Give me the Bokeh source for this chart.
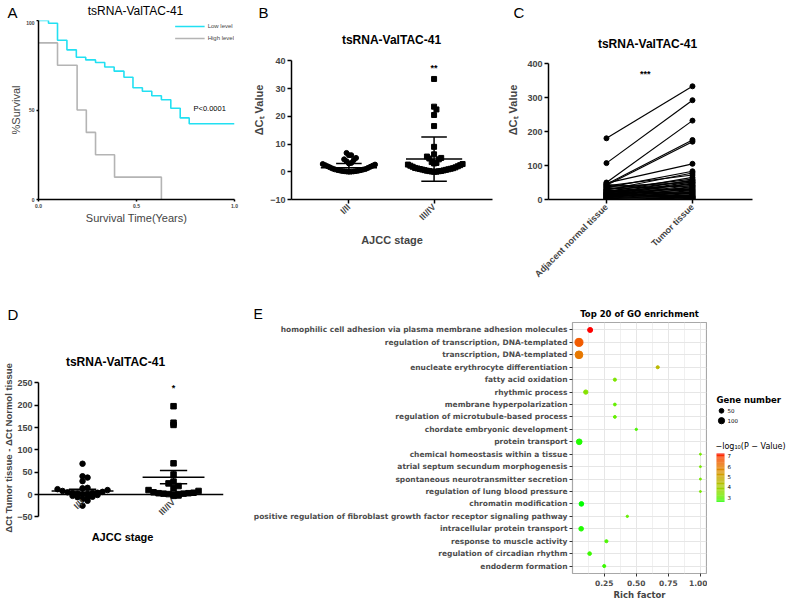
import math
import numpy as np
from bokeh.plotting import figure
from bokeh.models import Range1d, Label, FixedTicker, NumeralTickFormatter
from bokeh.layouts import column, row
from bokeh.embed import file_html
from bokeh.resources import INLINE

# ---------------- data ----------------
# A: Kaplan-Meier
km_low_time = [0, 0.051, 0.097, 0.145, 0.193, 0.241, 0.291, 0.338, 0.386, 0.436, 0.482,
               0.530, 0.578, 0.627, 0.675, 0.723, 0.769, 1.0]
km_low_surv = [100, 98.5, 89, 83.6, 79.5, 78, 76.5, 74, 71.7, 68.3, 62.4, 60.5, 58, 55.7,
               51, 45.6, 42.3, 42.3]
km_high_time = [0, 0.097, 0.197, 0.244, 0.291, 0.388, 0.627]
km_high_surv = [87.5, 75, 50, 37.5, 25, 12.5, 0]

# B: delta Ct by AJCC stage
stage_labels = ["I/II", "III/IV"]
b_early = [6.8, 6.0, 6.0, 5.0, 4.5, 4.2, 3.8, 3.2, 3.0, 2.8, 2.6, 2.4, 2.2, 2.0, 1.8, 1.6,
           1.4, 1.2, 1.0, 0.9, 0.8, 0.7, 0.6, 0.5, 0.4, 0.3, 0.25, 0.2, 0.15, 0.1, 0.05, 0.0]
b_late = [33.5, 23.5, 22.5, 20.5, 16.5, 9.0, 6.3, 5.5, 5.0, 4.8, 4.5, 3.5, 3.2, 3.0, 2.8,
          2.6, 2.4, 2.2, 2.0, 1.8, 1.6, 1.4, 1.3, 1.2, 1.1, 1.0, 0.9, 0.8, 0.7, 0.6, 0.5,
          0.4, 0.3, 0.25, 0.2, 0.1, 0.05, 0.0]
b_mean = [1.5, 4.6]
b_sd = [1.5, 8.0]

# C: paired normal vs tumor
tissue_labels = ["Adjacent normal tissue", "Tumor tissue"]
c_normal = [180, 107, 50, 45, 42, 48, 35, 28, 40, 22, 30, 18, 25, 15, 38, 12, 20, 10, 32, 8,
            16, 5, 26, 14, 6, 44, 3, 19, 9, 24, 2, 11, 36, 7, 13, 4, 29, 1, 17, 21]
c_tumor = [333, 292, 232, 175, 170, 105, 83, 78, 72, 65, 60, 57, 55, 52, 50, 48, 45, 42, 40,
           38, 35, 33, 30, 28, 26, 24, 22, 20, 18, 16, 14, 12, 10, 9, 8, 6, 5, 4, 3, 2]

# D: tumor - normal by stage
d_early = [69, 41, 38, 30, 15, 14, 12, 10, 8, 6, 5, 4, 3, 3, 2, 1, 0, -1, -3, -5, -6, -8,
           -10, -14, -25]
d_late = [198, 161, 156, 70, 45, 29, 25, 19, 14, 10, 8, 5, 4, 3, 3, 2, 2, 1, 1, 0, -2, -3]
d_mean = [8, 39]
d_sem = [4, 15]

# E: GO enrichment
go_terms = [
    "homophilic cell adhesion via plasma membrane adhesion molecules",
    "regulation of transcription, DNA-templated",
    "transcription, DNA-templated",
    "enucleate erythrocyte differentiation",
    "fatty acid oxidation",
    "rhythmic process",
    "membrane hyperpolarization",
    "regulation of microtubule-based process",
    "chordate embryonic development",
    "protein transport",
    "chemical homeostasis within a tissue",
    "atrial septum secundum morphogenesis",
    "spontaneous neurotransmitter secretion",
    "regulation of lung blood pressure",
    "chromatin modification",
    "positive regulation of fibroblast growth factor receptor signaling pathway",
    "intracellular protein transport",
    "response to muscle activity",
    "regulation of circadian rhythm",
    "endoderm formation",
]
go_rich = [0.14, 0.053, 0.053, 0.667, 0.333, 0.106, 0.333, 0.333, 0.5, 0.055, 1.0, 1.0, 1.0,
           1.0, 0.072, 0.43, 0.07, 0.267, 0.136, 0.25]
go_count = [59, 185, 170, 16, 16, 40, 12, 12, 6, 80, 3, 3, 3, 3, 48, 6, 48, 16, 26, 16]
go_logp = [7.2, 6.5, 6.0, 4.5, 3.3, 3.4, 3.0, 3.0, 2.8, 2.6, 3.2, 3.2, 3.2, 3.2, 2.55, 3.0,
           2.6, 2.8, 2.7, 2.7]
size_breaks = [50, 100]
logp_breaks = [3, 4, 5, 6, 7]

FONT_GP = "Liberation Sans"
FONT_GG = "DejaVu Sans"


# ---------------- helpers ----------------
class Geo:
    def __init__(self, W, H, l, t, r, b, xr, yr):
        self.W, self.H, self.l, self.t, self.r, self.b = W, H, l, t, r, b
        self.xr, self.yr = xr, yr
        self.fw = W - l - r
        self.fh = H - t - b

    def xy(self, px, py):
        x = self.xr[0] + (px - self.l) / self.fw * (self.xr[1] - self.xr[0])
        y = self.yr[1] - (py - self.t) / self.fh * (self.yr[1] - self.yr[0])
        return x, y

    def xpx(self):
        return self.fw / (self.xr[1] - self.xr[0])

    def ypx(self):
        return self.fh / (self.yr[1] - self.yr[0])


def make(g):
    p = figure(width=g.W, height=g.H, x_range=Range1d(*g.xr), y_range=Range1d(*g.yr),
               min_border_left=g.l, min_border_right=g.r, min_border_top=g.t,
               min_border_bottom=g.b, output_backend="svg", toolbar_location=None, tools="")
    p.outline_line_color = None
    p.xgrid.visible = False
    p.ygrid.visible = False
    p.background_fill_color = "white"
    p.border_fill_color = "white"
    return p


def header(W, H):
    p = figure(width=W, height=H, x_range=Range1d(0, W), y_range=Range1d(H, 0),
               min_border_left=0, min_border_right=0, min_border_top=0, min_border_bottom=0,
               x_axis_type=None, y_axis_type=None, output_backend="svg",
               toolbar_location=None, tools="")
    p.outline_line_color = None
    p.grid.visible = False
    return p


def lab(p, x, y, s, size, bold=False, align="center", color="black", font=FONT_GP, angle=0.0):
    p.add_layout(Label(x=x, y=y, text=s, text_font=font, text_font_size=f"{size}px",
                       text_font_style="bold" if bold else "normal", text_align=align,
                       text_baseline="middle", angle=angle, text_color=color))


def txt(p, g, px, py, s, size, **kw):
    x, y = g.xy(px, py)
    lab(p, x, y, s, size, **kw)


def gp_axes(p, size=9, lw=1.5, tick=4):
    for a in (p.xaxis[0], p.yaxis[0]):
        a.axis_line_color = "black"
        a.axis_line_width = lw
        a.major_tick_line_color = "black"
        a.major_tick_line_width = lw
        a.major_tick_out = tick
        a.major_tick_in = 0
        a.minor_tick_line_color = None
        a.major_label_text_font = FONT_GP
        a.major_label_text_font_style = "bold"
        a.major_label_text_font_size = f"{size}px"
        a.major_label_standoff = 2
        a.axis_label_text_font = FONT_GP
        a.axis_label_text_font_style = "bold"
        a.axis_label_text_font_size = "11px"


def swarm(vals, ypx, dbin, s):
    vals = np.asarray(vals, float)
    bins = np.floor(vals * ypx / dbin).astype(int)
    off = np.zeros(len(vals))
    for bb in np.unique(bins):
        idx = np.where(bins == bb)[0]
        idx = idx[np.argsort(vals[idx], kind="stable")]
        for k, i in enumerate(idx):
            m = (k + 1) // 2
            off[i] = m * s * (1 if k % 2 else -1)
    return off


def error_bars(p, centers, mean, err, half_mean, half_cap, lw=1.5):
    c = np.array(centers, float)
    m = np.array(mean, float)
    e = np.array(err, float)
    p.segment(x0=c - half_mean, x1=c + half_mean, y0=m, y1=m, line_color="black", line_width=lw)
    p.segment(x0=c, x1=c, y0=m - e, y1=m + e, line_color="black", line_width=lw)
    p.segment(x0=c - half_cap, x1=c + half_cap, y0=m + e, y1=m + e, line_color="black", line_width=lw)
    p.segment(x0=c - half_cap, x1=c + half_cap, y0=m - e, y1=m - e, line_color="black", line_width=lw)


# Lab colour gradient (green -> red), like ggplot's scale_colour_gradient
_M = np.array([[0.4124564, 0.3575761, 0.1804375],
               [0.2126729, 0.7151522, 0.0721750],
               [0.0193339, 0.1191920, 0.9503041]])
_Mi = np.linalg.inv(_M)
_W = np.array([0.95047, 1.0, 1.08883])


def _lin(c):
    c = np.asarray(c, float) / 255.0
    return np.where(c <= 0.04045, c / 12.92, ((c + 0.055) / 1.055) ** 2.4)


def _gam(c):
    c = np.clip(c, 0, 1)
    return np.where(c <= 0.0031308, 12.92 * c, 1.055 * np.power(c, 1 / 2.4) - 0.055)


def rgb2lab(rgb):
    xyz = _M @ _lin(rgb) / _W
    f = np.where(xyz > 0.008856, np.cbrt(xyz), 7.787 * xyz + 16 / 116)
    return np.array([116 * f[1] - 16, 500 * (f[0] - f[1]), 200 * (f[1] - f[2])])


def lab2hex(labv):
    L, a, b = labv
    fy = (L + 16) / 116
    f = np.array([fy + a / 500, fy, fy - b / 200])
    xyz = np.where(f ** 3 > 0.008856, f ** 3, (f - 16 / 116) / 7.787) * _W
    rgb = np.clip(np.round(_gam(_Mi @ xyz) * 255), 0, 255).astype(int)
    return "#%02x%02x%02x" % tuple(rgb)


LAB_LO = rgb2lab([0, 255, 0])
LAB_HI = rgb2lab([255, 0, 0])
P_LO, P_HI = min(go_logp), max(go_logp)


def grad(v):
    t = min(max((v - P_LO) / (P_HI - P_LO), 0.0), 1.0)
    return lab2hex(LAB_LO + t * (LAB_HI - LAB_LO))


def gene_size(c):
    return 1.08 + 0.512 * np.sqrt(np.asarray(c, float))


# ---------------- header row 1 (panel letters) ----------------
h1 = header(800, 20)
lab(h1, 7, 11.5, "A", 15, align="left")
lab(h1, 135, 10, "tsRNA-ValTAC-41", 12)
lab(h1, 258, 11.5, "B", 15, align="left")
lab(h1, 513, 11.5, "C", 15, align="left")

# ---------------- Panel A ----------------
gA = Geo(250, 270, 38, 0, 16, 91, (0, 1), (0, 100))
pA = make(gA)
pA.step(km_low_time, km_low_surv, mode="after", line_color="#22e0f2", line_width=1.6,
        legend_label="Low level")
pA.step(km_high_time, km_high_surv, mode="after", line_color="#b4b4b4", line_width=1.6,
        legend_label="High level")
gp_axes(pA, size=5, lw=1.5, tick=2)
pA.xaxis.ticker = FixedTicker(ticks=[0, 0.5, 1.0])
pA.xaxis.formatter = NumeralTickFormatter(format="0.0")
pA.yaxis.ticker = FixedTicker(ticks=[0, 50, 100])
pA.xaxis.axis_label = "Survival Time(Years)"
pA.yaxis.axis_label = "%Survival"
for a in (pA.xaxis[0], pA.yaxis[0]):
    a.axis_label_text_font_style = "normal"
    a.axis_label_standoff = 1
pA.legend.location = "top_right"
pA.legend.label_text_font = FONT_GP
pA.legend.label_text_font_size = "6px"
pA.legend.glyph_width = 30
pA.legend.glyph_height = 12
pA.legend.label_height = 12
pA.legend.spacing = 0
pA.legend.padding = 4
pA.legend.margin = 0
pA.legend.label_standoff = 3
pA.legend.border_line_color = None
pA.legend.background_fill_alpha = 0
txt(pA, gA, 193, 88, "P<0.0001", 7.5, align="left")

# ---------------- Panel B ----------------
gB = Geo(250, 270, 39, 0, 8, 91, (0.326, 2.686), (-10, 54.6))
pB = make(gB)
offE = swarm(b_early, gB.ypx(), 8, 2.4) / gB.xpx()
offL = swarm(b_late, gB.ypx(), 8, 2.4) / gB.xpx()
pB.scatter(1 + offE, b_early, marker="circle", size=5, color="black")
pB.scatter(2 + offL, b_late, marker="square", size=5, color="black")
error_bars(pB, [1, 2], b_mean, b_sd, 0.33, 0.15)
gp_axes(pB)
pB.yaxis.bounds = (-10, 40)
pB.xaxis.ticker = FixedTicker(ticks=[1, 2])
pB.xaxis.major_label_overrides = {1: stage_labels[0], 2: stage_labels[1]}
pB.xaxis.major_label_orientation = math.pi / 4
pB.yaxis.ticker = FixedTicker(ticks=[-10, 0, 10, 20, 30, 40])
pB.xaxis.axis_label = "AJCC stage"
pB.xaxis.axis_label_standoff = 5
pB.yaxis.axis_label = "\u0394C\u209c Value"
pB.yaxis.axis_label_standoff = 2
lab(pB, 2, 37.6, "**", 9, bold=True)
txt(pB, gB, 140, 19, "tsRNA-ValTAC-41", 12, bold=True)

# ---------------- Panel C ----------------
gC = Geo(300, 270, 48, 0, 48, 91, (0.326, 2.698), (0, 526.5))
pC = make(gC)
n = len(c_normal)
pC.segment(x0=[1] * n, y0=c_normal, x1=[2] * n, y1=c_tumor, line_color="black", line_width=1.2)
pC.scatter([1] * n, c_normal, marker="circle", size=5, color="black")
pC.scatter([2] * n, c_tumor, marker="circle", size=5, color="black")
gp_axes(pC)
pC.yaxis.bounds = (0, 400)
pC.xaxis.ticker = FixedTicker(ticks=[1, 2])
pC.xaxis.major_label_overrides = {1: tissue_labels[0], 2: tissue_labels[1]}
pC.xaxis.major_label_orientation = math.pi / 4
pC.yaxis.ticker = FixedTicker(ticks=[0, 100, 200, 300, 400])
pC.yaxis.axis_label = "\u0394C\u209c Value"
pC.yaxis.axis_label_standoff = 5
lab(pC, 1.45, 368, "***", 9, bold=True)
txt(pC, gC, 147, 23, "tsRNA-ValTAC-41", 12, bold=True)

# ---------------- header row 2 ----------------
h2 = header(800, 32)
lab(h2, 7, 23.5, "D", 15, align="left")
lab(h2, 253, 23.5, "E", 14, align="left")
lab(h2, 639, 23, "Top 20 of GO enrichment", 8.5, bold=True, font=FONT_GG)

# ---------------- Panel D ----------------
BOT2 = 27
gD = Geo(240, 280, 38, 0, 17, BOT2, (0.516, 2.549), (-177.0, 385.6))
pD = make(gD)
offDE = swarm(d_early, gD.ypx(), 6, 5) / gD.xpx()
offDL = swarm(d_late, gD.ypx(), 6, 5) / gD.xpx()
pD.scatter(1 + offDE, d_early, marker="circle", size=5.5, color="black")
pD.scatter(2 + offDL, d_late, marker="square", size=5.5, color="black")
error_bars(pD, [1, 2], d_mean, d_sem, 0.34, 0.15)
gp_axes(pD)
pD.xaxis.fixed_location = 0
pD.yaxis.bounds = (-50, 250)
pD.xaxis.ticker = FixedTicker(ticks=[1, 2])
pD.xaxis.major_label_overrides = {1: stage_labels[0], 2: stage_labels[1]}
pD.xaxis.major_label_orientation = math.pi / 4
pD.yaxis.ticker = FixedTicker(ticks=[-50, 0, 50, 100, 150, 200, 250])
pD.yaxis.axis_label = "\u0394Ct Tumor tissue - \u0394Ct Normol tissue"
pD.yaxis.axis_label_text_font_size = "9.5px"
pD.yaxis.axis_label_standoff = 0
lab(pD, 2, 238, "*", 9, bold=True)
txt(pD, gD, 115, 40, "tsRNA-ValTAC-41", 12, bold=True)
txt(pD, gD, 122, 216, "AJCC stage", 11, bold=True)

# ---------------- Panel E ----------------
gE = Geo(467, 280, 332, 0, 1, BOT2, (0.0025, 1.0475), (0.4, 20.6))
pE = make(gE)
ypos = [len(go_terms) - i for i in range(len(go_terms))]
colors = [grad(v) for v in go_logp]
pE.scatter(go_rich, ypos, size=gene_size(go_count), fill_color=colors, line_color=colors)
pE.outline_line_color = "#a8a8a8"
pE.outline_line_width = 1.2
pE.xgrid.visible = True
pE.ygrid.visible = True
pE.xgrid.grid_line_color = "#e6e6e6"
pE.ygrid.grid_line_color = "#e6e6e6"
pE.xgrid.minor_grid_line_color = "#f0f0f0"
pE.xaxis.ticker = FixedTicker(ticks=[0.25, 0.5, 0.75, 1.0], minor_ticks=[0.125, 0.375, 0.625, 0.875])
pE.xaxis.formatter = NumeralTickFormatter(format="0.00")
pE.yaxis.ticker = FixedTicker(ticks=ypos)
pE.yaxis.major_label_overrides = {y: t for y, t in zip(ypos, go_terms)}
for a in (pE.xaxis[0], pE.yaxis[0]):
    a.axis_line_color = None
    a.major_tick_line_color = "#333333"
    a.major_tick_out = 3
    a.major_tick_in = 0
    a.minor_tick_line_color = None
    a.major_label_text_font = FONT_GG
    a.major_label_text_font_style = "bold"
    a.major_label_text_font_size = "7.5px"
    a.major_label_text_color = "#4d4d4d"
    a.major_label_standoff = 2
pE.xaxis.axis_label = "Rich factor"
pE.xaxis.axis_label_text_font = FONT_GG
pE.xaxis.axis_label_text_font_style = "bold"
pE.xaxis.axis_label_text_font_size = "8.5px"
pE.xaxis.axis_label_standoff = 1

# legend figure for E (y in px from the panel top)
LH = 280 - BOT2
pL = figure(width=93, height=280, x_range=Range1d(0, 93), y_range=Range1d(LH, 0),
            min_border_left=0, min_border_right=0, min_border_top=0, min_border_bottom=BOT2,
            x_axis_type=None, y_axis_type=None, output_backend="svg",
            toolbar_location=None, tools="")
pL.outline_line_color = None
pL.grid.visible = False
leg_y = [89, 99]
pL.scatter([14, 14], leg_y, size=gene_size(size_breaks), color="black")
lab(pL, 9, 78, "Gene number", 8.5, bold=True, align="left", font=FONT_GG)
for yy, bk in zip(leg_y, size_breaks):
    lab(pL, 20, yy, str(bk), 5.5, align="left", font=FONT_GG)
lab(pL, 8, 125, "\u2212log\u2081\u2080(P \u2212 Value)", 8, align="left", font=FONT_GG)
CB_TOP, CB_BOT = 132, 181


def cb_y(v):
    return CB_BOT - (v - P_LO) / (P_HI - P_LO) * (CB_BOT - CB_TOP)


vs = np.linspace(P_LO, P_HI, 60)
pL.quad(left=9, right=17, bottom=[cb_y(v) for v in vs[:-1]], top=[cb_y(v) for v in vs[1:]],
        fill_color=[grad((a + b) / 2) for a, b in zip(vs[:-1], vs[1:])], line_color=None)
for v in logp_breaks:
    lab(pL, 20, cb_y(v), str(v), 5.5, align="left", font=FONT_GG)

layout = column(h1, row(pA, pB, pC), h2, row(pD, pE, pL))
open("out.html", "w").write(file_html(layout, INLINE))
